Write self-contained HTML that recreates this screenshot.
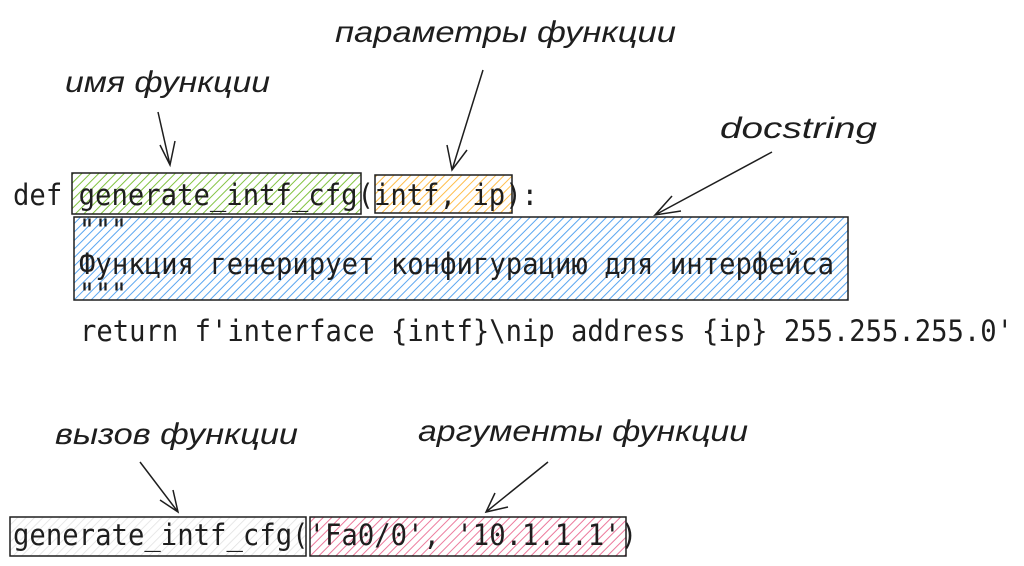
<!DOCTYPE html>
<html><head><meta charset="utf-8"><style>
body{margin:0;background:#fff;width:1024px;height:566px;overflow:hidden}
svg{display:block}
.m{font-family:"DejaVu Sans Mono","Liberation Mono",monospace;font-size:29px;fill:#1e1e1e}
.h{font-family:"Liberation Sans",sans-serif;font-style:italic;font-size:30px;fill:#1e1e1e}
</style></head><body>
<svg width="1024" height="566" viewBox="0 0 1024 566">
<defs>
<pattern id="g" width="6" height="6" patternUnits="userSpaceOnUse" patternTransform="rotate(45)"><line x1="0" y1="0" x2="0" y2="6" stroke="#82c341" stroke-width="2"/></pattern>
<pattern id="o" width="6" height="6" patternUnits="userSpaceOnUse" patternTransform="rotate(45)"><line x1="0" y1="0" x2="0" y2="6" stroke="#ffbd4a" stroke-width="2"/></pattern>
<pattern id="b" width="6" height="6" patternUnits="userSpaceOnUse" patternTransform="rotate(45)"><line x1="0" y1="0" x2="0" y2="6" stroke="#5aa6f0" stroke-width="2"/></pattern>
<pattern id="p" width="6" height="6" patternUnits="userSpaceOnUse" patternTransform="rotate(45)"><line x1="0" y1="0" x2="0" y2="6" stroke="#ec7a9c" stroke-width="2"/></pattern>
<pattern id="w" width="6" height="6" patternUnits="userSpaceOnUse" patternTransform="rotate(45)"><line x1="0" y1="0" x2="0" y2="6" stroke="#e0e0e0" stroke-width="1.5"/></pattern>
</defs>
<g stroke="#1e1e1e" stroke-width="1.5">
<rect x="72" y="173" width="289" height="41" fill="url(#g)"/>
<rect x="375" y="175" width="137" height="38" fill="url(#o)"/>
<rect x="74" y="217" width="774" height="83" fill="url(#b)"/>
<rect x="10" y="517" width="296" height="39" fill="url(#w)"/>
<rect x="310" y="517" width="316" height="39" fill="url(#p)"/>
</g>
<text class="m" x="13" y="205" textLength="525" lengthAdjust="spacingAndGlyphs">def generate_intf_cfg(intf, ip):</text>
<text class="m" x="79" y="240" textLength="48" lengthAdjust="spacingAndGlyphs">"""</text>
<text class="m" x="79" y="274" textLength="755" lengthAdjust="spacingAndGlyphs">Функция генерирует конфигурацию для интерфейса</text>
<text class="m" x="79" y="304" textLength="48" lengthAdjust="spacingAndGlyphs">"""</text>
<text class="m" x="80" y="341" textLength="933" lengthAdjust="spacingAndGlyphs">return f'interface {intf}\nip address {ip} 255.255.255.0'</text>
<text class="m" x="13" y="545" textLength="624" lengthAdjust="spacingAndGlyphs">generate_intf_cfg('Fa0/0', '10.1.1.1')</text>
<g stroke="#1e1e1e" stroke-width="1.5" fill="none">
<path d="M158 112 L170 165 M160 145 L170 165 L175 141"/>
<path d="M483 70 L452 170 M447 145 L452 170 L467 150"/>
<path d="M772 152 L655 215 M672 196 L655 215 L681 211"/>
<path d="M140 462 L178 512 M160 500 L178 512 L173 490"/>
<path d="M548 462 L486 512 M495 493 L486 512 L508 507"/>
</g>
<text class="h" x="65" y="92" textLength="205" lengthAdjust="spacingAndGlyphs">имя функции</text>
<text class="h" x="335" y="42" textLength="341" lengthAdjust="spacingAndGlyphs">параметры функции</text>
<text class="h" x="720" y="138" textLength="157" lengthAdjust="spacingAndGlyphs">docstring</text>
<text class="h" x="55" y="444" textLength="243" lengthAdjust="spacingAndGlyphs">вызов функции</text>
<text class="h" x="418" y="441" textLength="330" lengthAdjust="spacingAndGlyphs">аргументы функции</text>
</svg>
</body></html>
